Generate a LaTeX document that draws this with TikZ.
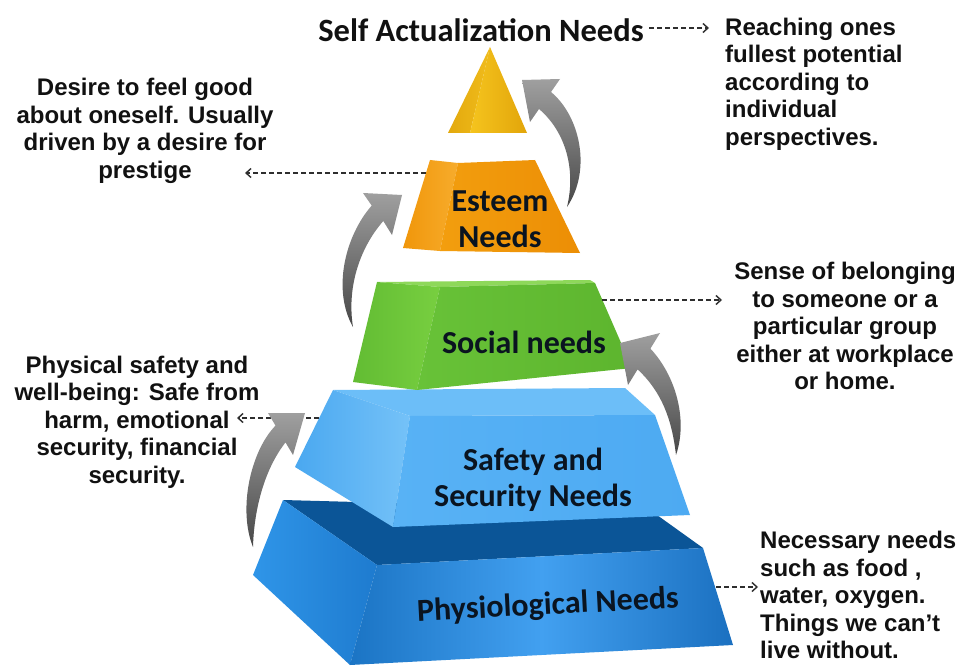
\documentclass[tikz,border=0pt]{standalone}
\usepackage{fontspec}
\setmainfont{Liberation Sans}
\newfontfamily\calib{Carlito}
\usetikzlibrary{arrows.meta}
\definecolor{tx}{HTML}{111111}
\definecolor{lab}{HTML}{0A1420}
\definecolor{dashc}{HTML}{2E2E2E}
\begin{document}
\begin{tikzpicture}[x=1pt,y=-1pt,
  desc/.style={font=\bfseries\fontsize{24}{27.5}\selectfont, text=tx, inner sep=0pt},
  lvl/.style={font=\calib\bfseries\fontsize{32}{36}\selectfont, text=lab, inner sep=0pt, align=center},
  dasharrow/.style={draw=dashc, line width=1.4pt, dash pattern=on 5pt off 3pt, -{Straight Barb[length=5pt,width=9pt,line width=1.4pt]}},
  grayarrow/.style={top color=gray!75, bottom color=black!72, draw=none}
]
\useasboundingbox (0,0) rectangle (967,666);
\fill[white] (0,0) rectangle (967,666);

% ---- Physiological (bottom) slab
\fill[color={rgb,255:red,11;green,85;blue,151}] (283,500) -- (650,510) -- (703,548) -- (377,565) -- cycle;
\shade[left color={rgb,255:red,47;green,149;blue,232}, right color={rgb,255:red,30;green,123;blue,207}] (283,500) -- (253,575) -- (350,665) -- (377,565) -- cycle;
\shade[left color={rgb,255:red,27;green,116;blue,196}, right color={rgb,255:red,27;green,112;blue,192}, middle color={rgb,255:red,66;green,160;blue,240}] (377,565) -- (703,548) -- (733,645) -- (350,665) -- cycle;

% ---- Safety slab
\fill[color={rgb,255:red,108;green,190;blue,248}] (333,390) -- (625,388) -- (655,415) -- (410,416) -- cycle;
\shade[left color={rgb,255:red,74;green,168;blue,240}, right color={rgb,255:red,117;green,194;blue,248}] (333,390) -- (295,467) -- (393,527) -- (410,416) -- cycle;
\shade[left color={rgb,255:red,88;green,178;blue,245}, middle color={rgb,255:red,124;green,198;blue,250}, right color={rgb,255:red,77;green,170;blue,242}] (410,416) -- (655,415) -- (690,515) -- (393,527) -- cycle;

% ---- Social slab
\fill[color={rgb,255:red,142;green,216;blue,90}] (377,282) -- (590,280) -- (595,283) -- (440,287) -- cycle;
\shade[left color={rgb,255:red,98;green,188;blue,51}, right color={rgb,255:red,120;green,207;blue,64}] (377,282) -- (353,382) -- (417,390) -- (440,287) -- cycle;
\shade[left color={rgb,255:red,104;green,194;blue,56}, middle color={rgb,255:red,125;green,210;blue,68}, right color={rgb,255:red,93;green,181;blue,46}] (440,287) -- (595,283) -- (632,368) -- (417,390) -- cycle;

% ---- Esteem slab
\shade[left color={rgb,255:red,240;green,150;blue,10}, right color={rgb,255:red,247;green,172;blue,44}] (430,160) -- (403,248) -- (440,251) -- (458,163) -- cycle;
\shade[left color={rgb,255:red,243;green,158;blue,14}, middle color={rgb,255:red,247;green,170;blue,40}, right color={rgb,255:red,236;green,142;blue,5}] (458,163) -- (535,160) -- (580,253) -- (440,251) -- cycle;

% ---- Apex
\shade[left color={rgb,255:red,227;green,169;blue,13}, right color={rgb,255:red,240;green,188;blue,28}] (490,47) -- (448,133) -- (470,133) -- cycle;
\shade[left color={rgb,255:red,245;green,196;blue,30}, right color={rgb,255:red,226;green,165;blue,10}] (490,47) -- (470,133) -- (527,133) -- cycle;

% ---- Level labels
\node[lvl, rotate=3] (phys) at (548,606) {Physiological Needs};
\node[lvl] (safe) at (533,480) {Safety and\\Security Needs};
\node[lvl] (soc) at (524,342) {Social needs};
\node[lvl] (est) at (500,219) {Esteem\\Needs};
\node[font=\calib\bfseries\fontsize{32.5}{36}\selectfont, text=tx, inner sep=0pt] (title) at (481,30) {Self Actualization Needs};

% ---- Description texts
\node[desc, align=left, anchor=west] (reach) at (725,84) {Reaching ones\\fullest potential\\according to\\individual\\perspectives.};
\node[desc, align=center] (desire) at (145,131) {Desire to feel good\\about oneself. Usually\\driven by a desire for\\prestige};
\node[desc, align=center] (sense) at (845,326) {Sense of belonging\\to someone or a\\particular group\\either at workplace\\or home.};
\node[desc, align=center] (phystext) at (137,422) {Physical safety and\\well-being: Safe from\\harm, emotional\\security, financial\\security.};
\node[desc, align=left, anchor=west] (necess) at (760,595) {Necessary needs\\such as food ,\\water, oxygen.\\Things we can’t\\live without.};

% ---- Dashed connectors
\coordinate (c1s) at (649,28);  \coordinate (c1e) at (709,28);
\coordinate (c2s) at (426,173); \coordinate (c2e) at (245,173);
\coordinate (c3s) at (602,300); \coordinate (c3e) at (722,300);
\coordinate (c4s) at (319,418); \coordinate (c4e) at (237,418);
\coordinate (c5s) at (716,587); \coordinate (c5e) at (758,587);
\draw[dasharrow] (c1s) -- (c1e);
\draw[dasharrow] (c2s) -- (c2e);
\draw[dasharrow] (c3s) -- (c3e);
\draw[dasharrow] (c4s) -- (c4e);
\draw[dasharrow] (c5s) -- (c5e);

% ---- Curved gray arrows
% bottom-left (physiological -> safety)
\shade[grayarrow] (275.5,425.6) .. controls (250,452) and (238,510) .. (253,547)
  .. controls (254,510) and (264,470) .. (285.5,442.4) -- (293,455) -- (305,413) -- (268,413) -- cycle;
% left (social -> esteem)
\shade[grayarrow] (371.7,205.6) .. controls (345,236) and (332,290) .. (353,327)
  .. controls (347,290) and (358,250) .. (383.3,221) -- (392,235) -- (402,195) -- (363,193) -- cycle;
% top right (esteem -> self actualization)
\shade[grayarrow] (551,92) .. controls (580,116) and (592,170) .. (567,207)
  .. controls (576,170) and (566,132) .. (539,109) -- (530,122) -- (522,80) -- (560,79) -- cycle;
% right (safety -> social)
\shade[grayarrow] (650.4,348.6) .. controls (676,376) and (688,420) .. (676,455)
  .. controls (672,420) and (662,392) .. (637.6,369.4) -- (628,385) -- (620,343) -- (660,333) -- cycle;
\end{tikzpicture}
\end{document}
